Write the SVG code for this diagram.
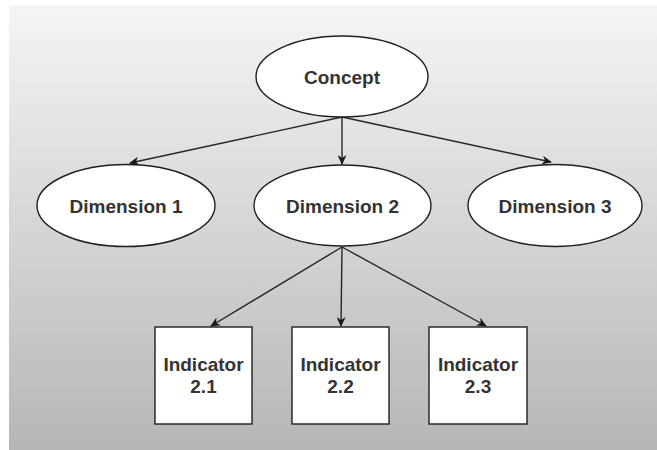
<svg xmlns="http://www.w3.org/2000/svg" width="657" height="450" viewBox="0 0 657 450">
  <defs>
    <linearGradient id="bg" x1="0" y1="0" x2="0" y2="1">
      <stop offset="0" stop-color="#f5f5f5"/>
      <stop offset="1" stop-color="#b6b6b6"/>
    </linearGradient>
    <marker id="arrow" viewBox="0 0 10 10" refX="9" refY="5" markerWidth="10" markerHeight="9" markerUnits="userSpaceOnUse" orient="auto" preserveAspectRatio="none">
      <path d="M0,0 L10,5 L0,10 L3,5 Z" fill="#1a1a1a"/>
    </marker>
    <style>
      .node { fill: #ffffff; stroke: #1f1f1f; stroke-width: 1.4; }
      .label { font-family: "Liberation Sans", Arial, sans-serif; font-size: 19px; font-weight: bold; fill: #333333; text-anchor: middle; }
      .edge { stroke: #262626; stroke-width: 1.4; fill: none; marker-end: url(#arrow); }
    </style>
  </defs>

  <rect x="0" y="0" width="657" height="450" fill="#ffffff"/>
  <rect x="9" y="5" width="648" height="445" fill="url(#bg)"/>

  <g id="connectors">
    <line class="edge" x1="342" y1="117" x2="130" y2="163"/>
    <line class="edge" x1="342" y1="117" x2="342" y2="164"/>
    <line class="edge" x1="342" y1="117" x2="551" y2="162"/>
    <line class="edge" x1="342" y1="247" x2="211" y2="326"/>
    <line class="edge" x1="342" y1="247" x2="341" y2="326"/>
    <line class="edge" x1="342" y1="247" x2="486" y2="326"/>
  </g>

  <g id="concept">
    <ellipse class="node" cx="342" cy="76.5" rx="86" ry="40.5"/>
    <text class="label" x="342" y="84">Concept</text>
  </g>

  <g id="dimension-1">
    <ellipse class="node" cx="126" cy="205.5" rx="89" ry="41"/>
    <text class="label" x="126" y="213">Dimension 1</text>
  </g>

  <g id="dimension-2">
    <ellipse class="node" cx="342.5" cy="205.5" rx="88.5" ry="40.5"/>
    <text class="label" x="342.5" y="213">Dimension 2</text>
  </g>

  <g id="dimension-3">
    <ellipse class="node" cx="555" cy="205.5" rx="87" ry="41"/>
    <text class="label" x="555" y="213">Dimension 3</text>
  </g>

  <g id="indicator-2-1">
    <rect class="node" x="155" y="327" width="97" height="97"/>
    <text class="label" x="203.5" y="371">Indicator</text>
    <text class="label" x="203.5" y="393">2.1</text>
  </g>

  <g id="indicator-2-2">
    <rect class="node" x="292" y="327" width="97" height="97"/>
    <text class="label" x="340.5" y="371">Indicator</text>
    <text class="label" x="340.5" y="393">2.2</text>
  </g>

  <g id="indicator-2-3">
    <rect class="node" x="429" y="327" width="98" height="97"/>
    <text class="label" x="478" y="371">Indicator</text>
    <text class="label" x="478" y="393">2.3</text>
  </g>
</svg>
